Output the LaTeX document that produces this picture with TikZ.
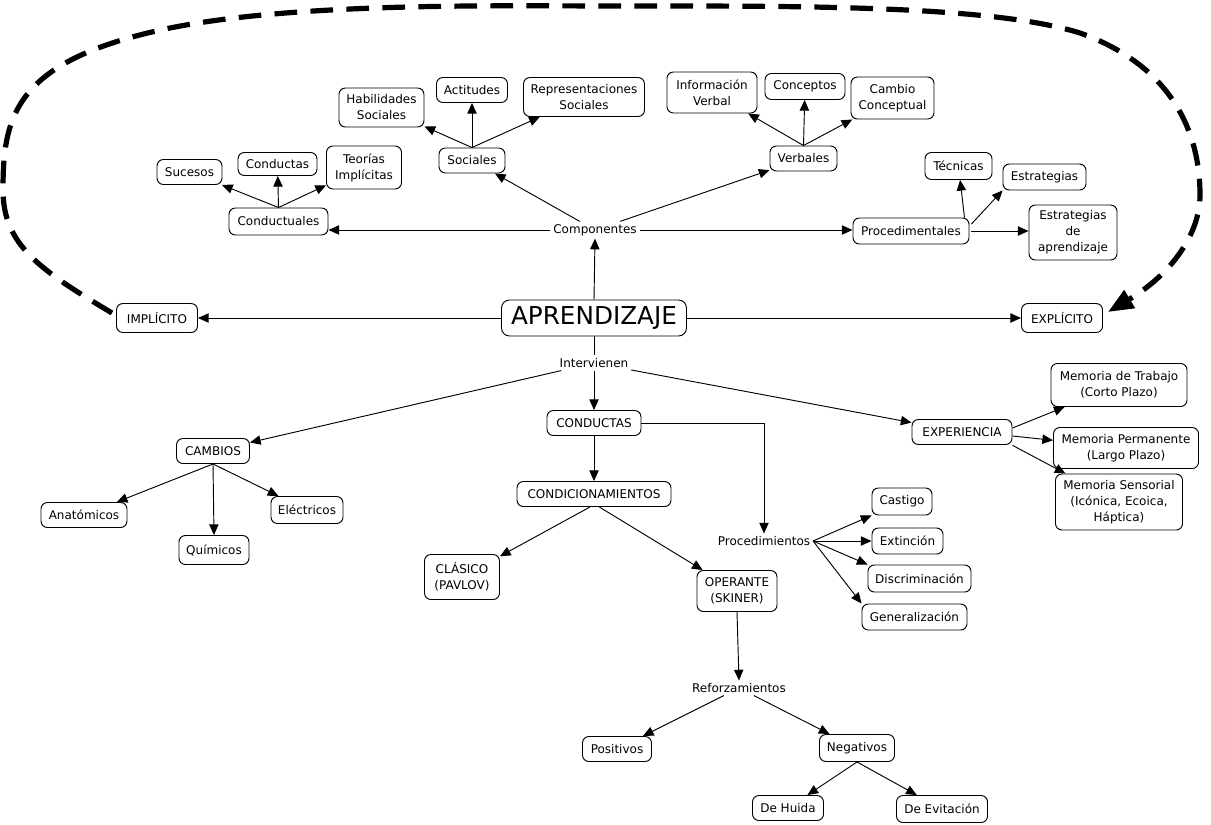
\documentclass[tikz,border=0pt]{standalone}
\usepackage{fontspec}
\setmainfont{DejaVu Sans}
\usetikzlibrary{arrows.meta,calc}
\tikzset{
  wh/.style 2 args={minimum width=#1*0.75pt, minimum height=#2*0.75pt},
  box/.style={draw, rounded corners=4.8pt, align=center, inner sep=0pt, fill=white, line width=0.7pt,
    font=\fontsize{9}{12}\selectfont},
  lbl/.style={inner sep=2pt, fill=white, font=\fontsize{9}{12}\selectfont},
  arr/.style={-{Triangle[length=8pt,width=7pt]}, line width=0.7pt},
  ln/.style={line width=0.7pt},
  loopline/.style={line width=3.9pt, dash pattern=on 17pt off 10pt, -{Triangle[length=19pt,width=15pt]}}
}
\begin{document}
\begin{tikzpicture}[x=0.75pt,y=-0.75pt]
\useasboundingbox (0,0) rectangle (1211,825);

% ---------- top part ----------
\node[box, wh={85}{39}] (hab) at (381.5,107.5) {Habilidades\\Sociales};
\node[box, wh={71}{25}] (act) at (472,90) {Actitudes};
\node[box, wh={121}{39}] (rep) at (584,97) {Representaciones\\Sociales};
\node[box, wh={66}{25}] (soc) at (472,160.5) {Sociales};
\node[box, wh={65}{25}] (suc) at (189.5,172) {Sucesos};
\node[box, wh={79}{23}] (cds) at (277.5,164) {Conductas};
\node[box, wh={75}{43}] (teo) at (364,167.5) {Teorías\\Implícitas};
\node[box, wh={99}{27}] (cdl) at (278.5,221.5) {Conductuales};
\node[lbl] (comp) at (595,230) {Componentes};
\node[box, wh={90}{41}] (inf) at (712,92.5) {Información\\Verbal};
\node[box, wh={80}{26}] (con) at (805,86.5) {Conceptos};
\node[box, wh={83}{42}] (cam) at (892.5,98) {Cambio\\Conceptual};
\node[box, wh={67}{25}] (ver) at (803.5,158.5) {Verbales};
\node[box, wh={67}{27}] (tec) at (958.5,166) {Técnicas};
\node[box, wh={83}{26}] (est) at (1044.5,177) {Estrategias};
\node[box, wh={88}{55}] (esa) at (1073,232.5) {Estrategias\\de\\aprendizaje};
\node[box, wh={116}{26}] (pro) at (911,231) {Procedimentales};

\node[box, wh={185}{36}, font=\fontsize{18.5}{22}\selectfont, rounded corners=6pt] (apr) at (594,318) {APRENDIZAJE};
\node[box, wh={81}{29}] (imp) at (157,318) {IMPLÍCITO};
\node[box, wh={81}{29}] (exp) at (1062,318) {EXPLÍCITO};

% ---------- bottom part ----------
\node[lbl] (int) at (594,363) {Intervienen};
\node[box, wh={94}{25}] (cdt) at (594,423) {CONDUCTAS};
\node[box, wh={154}{25}] (cnd) at (594,494) {CONDICIONAMIENTOS};
\node[box, wh={73}{25}] (cmb) at (213,451) {CAMBIOS};
\node[box, wh={86}{25}] (ana) at (84,515) {Anatómicos};
\node[box, wh={70}{29}] (qui) at (214,550) {Químicos};
\node[box, wh={72}{27}] (ele) at (307,510) {Eléctricos};
\node[box, wh={75}{45}] (cla) at (462,577) {CLÁSICO\\(PAVLOV)};
\node[box, wh={80}{41}] (ope) at (737,591) {OPERANTE\\(SKINER)};
\node[lbl] (pcs) at (764,541) {Procedimientos};
\node[box, wh={60}{27}] (cas) at (902,501.5) {Castigo};
\node[box, wh={71}{26}] (ext) at (907.5,541) {Extinción};
\node[box, wh={103}{27}] (dis) at (919.5,578.5) {Discriminación};
\node[box, wh={105}{26}] (gen) at (914.5,617) {Generalización};
\node[box, wh={100}{25}] (xp) at (962,432) {EXPERIENCIA};
\node[box, wh={136}{43}] (mt) at (1119,385) {Memoria de Trabajo\\(Corto Plazo)};
\node[box, wh={145}{41}] (mp) at (1126,448) {Memoria Permanente\\(Largo Plazo)};
\node[box, wh={127}{56}] (ms) at (1119,502) {Memoria Sensorial\\(Icónica, Ecoica,\\Háptica)};
\node[lbl] (ref) at (739,688) {Reforzamientos};
\node[box, wh={69}{25}] (pos) at (617,749) {Positivos};
\node[box, wh={75}{27}] (neg) at (857,748) {Negativos};
\node[box, wh={71}{25}] (hui) at (788,808) {De Huida};
\node[box, wh={91}{27}] (evi) at (942,809) {De Evitación};

% ---------- connectors: top ----------
\draw[arr] (apr.north) -- (comp.south);
\draw[arr] (apr.west) -- (imp.east);
\draw[arr] (apr.east) -- (exp.west);
\draw[arr] (comp.west) -- (comp.west -| cdl.east);
\draw[arr] (comp.east) -- (comp.east -| pro.west);
\draw[arr] (comp) -- (soc);
\draw[arr] (comp) -- (ver);
\draw[arr] (cdl.north) -- (suc);
\draw[arr] (cdl.north) -- (cds);
\draw[arr] (cdl.north) -- (teo);
\draw[arr] (soc.north) -- (hab);
\draw[arr] (soc.north) -- (act);
\draw[arr] (soc.north) -- (rep);
\draw[arr] (ver.north) -- (inf);
\draw[arr] (ver.north) -- (con);
\draw[arr] (ver.north) -- (cam);
\coordinate (pa) at ([shift={(-5,0)}]pro.north east);
\coordinate (pb) at ([shift={(2,-7)}]pro.east);
\coordinate (pc) at ([shift={(2,0)}]pro.east);
\draw[arr] (pa) -- (tec);
\draw[arr] (pb) -- (est.south west);
\draw[arr] (pc) -- (pc -| esa.west);

% ---------- connectors: bottom ----------
\draw[ln] (apr.south) -- (int.north);
\draw[arr] (int) -- (cmb);
\draw[arr] (int.south) -- (cdt.north);
\draw[arr] (int) -- (xp);
\draw[arr] (cmb.south) -- (ana);
\draw[arr] (cmb.south) -- (qui.north);
\draw[arr] (cmb.south) -- (ele);
\draw[arr] (cdt.south) -- (cnd.north);
\draw[arr] (cdt.east) -| (pcs.north);
\draw[arr] ([xshift=-3]cnd.south) -- (cla);
\draw[arr] ([xshift=4]cnd.south) -- (ope);
\draw[arr] (pcs.east) -- (cas.south west);
\draw[arr] (pcs.east) -- (ext.west);
\draw[arr] (pcs.east) -- (dis.north west);
\draw[arr] (pcs.east) -- (gen.north west);
\draw[arr] ([yshift=3]xp.east) -- (mt);
\draw[arr] ([yshift=-3]xp.east) -- (mp);
\draw[arr] ([yshift=-10]xp.east) -- (ms);
\draw[arr] (ope.south) -- (ref.north);
\draw[arr] (ref) -- (pos);
\draw[arr] (ref) -- (neg);
\draw[arr] (neg.south) -- (hui);
\draw[arr] (neg.south) -- (evi);

% ---------- dashed loop ----------
\draw[loopline] ([shift={(-4,-5)}]imp.west)
  .. controls (40,270) and (3,245) .. (3,190)
  .. controls (3,115) and (15,60) .. (170,28)
  .. controls (300,2) and (500,6) .. (620,6)
  .. controls (800,6) and (990,5) .. (1080,33)
  .. controls (1170,65) and (1200,130) .. (1200,195)
  .. controls (1200,235) and (1170,275) .. ([shift={(5,-6)}]exp.east);
\end{tikzpicture}
\end{document}
